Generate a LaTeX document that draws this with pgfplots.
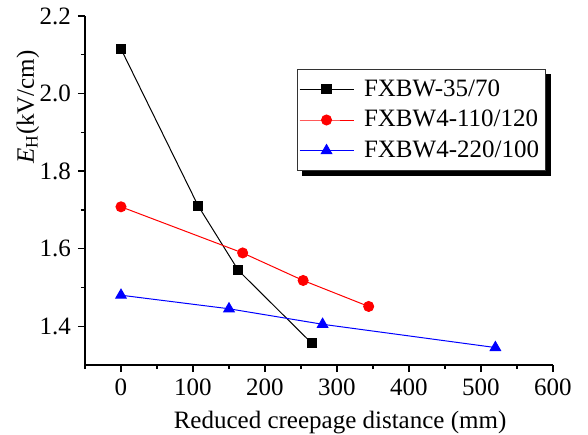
\documentclass[border=0pt]{standalone}
\usepackage{fontspec}
\setmainfont{Liberation Serif}
\usepackage{pgfplots}
\pgfplotsset{compat=1.18}
\newcommand{\fs}{\fontsize{12.5}{14}\selectfont}
\begin{document}
\begin{tikzpicture}
\begin{axis}[
  scale only axis,
  width=234pt, height=174.5pt,
  at={(0,0)}, anchor=south west,
  xmin=-50, xmax=600, ymin=1.3, ymax=2.2,
  axis lines=left,
  axis line style={-, line width=0.7pt},
  tick align=outside,
  xtick={0,100,...,600},
  minor xtick={-50,50,150,250,350,450,550},
  ytick={1.4,1.6,1.8,2.0,2.2},
  minor ytick={1.5,1.7,1.9,2.1},
  major tick length=3.5pt, minor tick length=2pt,
  every tick/.style={line width=0.7pt, black},
  /pgf/number format/assume math mode=true,
  tick label style={font=\fs},
  yticklabel style={/pgf/number format/fixed, /pgf/number format/fixed zerofill, /pgf/number format/precision=1},
  xticklabel style={/pgf/number format/fixed},
  scaled ticks=false,
  xlabel={Reduced creepage distance (mm)},
  ylabel={\textit{E}\textsubscript{H}(kV/cm)},
  label style={font=\fs},
  xlabel style={at={(axis description cs:0.545,-0.165)}, anchor=center},
  ylabel style={at={(axis description cs:-0.122,0.739)}, anchor=center, rotate=0},
  legend style={name=leg, at={(rel axis cs:0.452,0.848)}, anchor=north west, font=\fs,
    draw=black!80, line width=0.5pt, fill=white,
    inner xsep=1pt, inner ysep=3pt, row sep=1.5pt,
    /tikz/every odd column/.append style={column sep=3pt}},
  legend cell align=left,
  legend image code/.code={\draw[mark repeat=2,mark phase=2] plot coordinates {(0pt,0pt)(13.5pt,0pt)(27pt,0pt)};},
]
\addplot[black, line width=0.5pt, mark=square*, mark size=2.3pt, mark options={solid}] coordinates {
 (0,2.115) (107,1.711) (163,1.544) (265,1.356)};
\addlegendentry{FXBW-35/70}
\addplot[red, line width=0.5pt, mark=*, mark size=2.5pt] coordinates {
 (0,1.708) (169,1.589) (253,1.518) (344,1.451)};
\addlegendentry{FXBW4-110/120}
\addplot[blue, line width=0.5pt, mark=triangle*, mark size=3pt] coordinates {
 (0,1.480) (150,1.445) (280,1.405) (520,1.345)};
\addlegendentry{FXBW4-220/100}
\end{axis}
\fill[black] ([xshift=2.5pt]leg.south west) rectangle ([xshift=2.7pt,yshift=-2.7pt]leg.south east);
\fill[black] ([yshift=-2.5pt]leg.north east) rectangle ([xshift=2.7pt,yshift=-2.7pt]leg.south east);
\pgfresetboundingbox
\useasboundingbox (-42.5pt,-34.5pt) rectangle (251.5pt,182.5pt);
\end{tikzpicture}
\end{document}
